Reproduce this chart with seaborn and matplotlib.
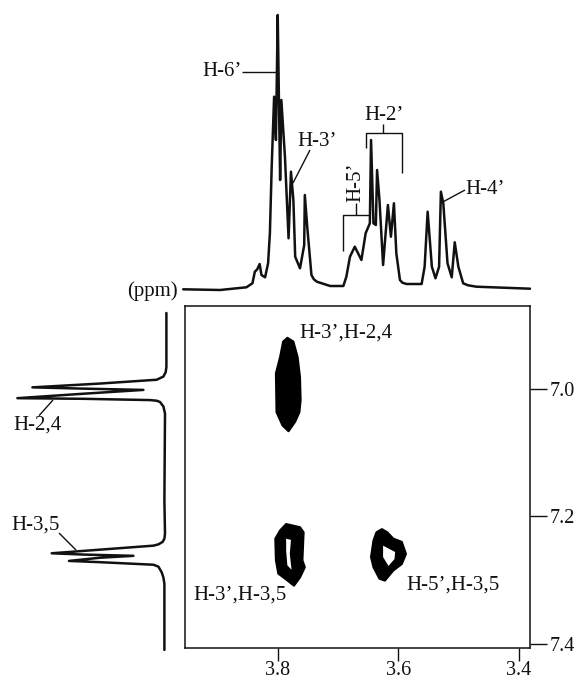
import matplotlib
matplotlib.use("Agg")
import matplotlib.pyplot as plt
import seaborn as sns

# 1D trace on top (ppm, height)
top_ppm = [3.957, 3.896, 3.852, 3.842, 3.838, 3.834, 3.830, 3.827, 3.821, 3.816, 3.813, 3.810, 3.806, 3.803,
           3.800, 3.798, 3.796, 3.794, 3.788, 3.782, 3.778, 3.774, 3.771, 3.763, 3.756, 3.755, 3.751, 3.744,
           3.740, 3.735, 3.713, 3.691, 3.686, 3.680, 3.672, 3.661, 3.654, 3.647, 3.645, 3.641, 3.637, 3.635, 3.631,
           3.625, 3.617, 3.612, 3.607, 3.603, 3.597, 3.593, 3.586, 3.561, 3.556, 3.551, 3.544, 3.538, 3.532, 3.529,
           3.525, 3.518, 3.511, 3.506, 3.500, 3.492, 3.484, 3.470, 3.381]
top_height = [0.7, 0, 2.7, 6.7, 18.3, 20.7, 26, 15, 12.7, 26.7, 56.7, 123.3, 193.3, 150,
              275, 190, 110, 190, 133.3, 51.7, 118.3, 90, 33.3, 21.7, 45, 95, 63.3, 15,
              10.7, 8.3, 4, 4, 13.3, 33.3, 43.3, 30, 56.7, 66.7, 150, 66.7, 65, 120, 90,
              25, 85, 53.3, 86.7, 36.7, 10, 7.3, 6, 6, 23.3, 78.3, 23.3, 11.7, 23.3, 98.3,
              86.7, 26.7, 12.7, 47.7, 23.3, 6.7, 4.7, 3.3, 1.3]

# 1D trace on the left
left_ppm = [6.880, 6.965, 6.973, 6.980, 6.983, 6.985, 6.991, 6.997, 6.999, 7.001, 7.007, 7.014, 7.015, 7.017,
            7.018, 7.020, 7.027, 7.038, 7.175, 7.227, 7.235, 7.240, 7.244, 7.246, 7.258, 7.260, 7.262, 7.265,
            7.270, 7.272, 7.276, 7.279, 7.288, 7.296, 7.306, 7.410]
left_height = [-0.7, -0.7, 0, 2.3, 6.3, 9, 65.7, 133.3, 82.3, 22.3, 82.3, 148.3, 82.3, 15.7,
               9, 5.7, 2.3, 0.7, 1.3, 0.7, 1.3, 3, 7.3, 12.3, 114, 82.3, 32.3, 65.7,
               96.7, 65.7, 12.3, 7.3, 4, 2.3, 1.3, 1.3]

# cross peak outlines
peak1_x = [3.784, 3.774, 3.767, 3.763, 3.762, 3.764, 3.771, 3.782, 3.792, 3.802, 3.803, 3.796, 3.791]
peak1_y = [6.919, 6.925, 6.949, 6.981, 7.017, 7.036, 7.051, 7.066, 7.057, 7.036, 6.975, 6.949, 6.925]
peak2_x = [3.786, 3.763, 3.757, 3.759, 3.755, 3.763, 3.773, 3.785, 3.799, 3.803, 3.804, 3.796]
peak2_y = [7.212, 7.217, 7.225, 7.269, 7.280, 7.296, 7.309, 7.300, 7.290, 7.269, 7.235, 7.222]
hole2_x = [3.786, 3.778, 3.780, 3.777, 3.784, 3.786]
hole2_y = [7.235, 7.237, 7.259, 7.284, 7.277, 7.254]
peak3_x = [3.627, 3.618, 3.608, 3.594, 3.587, 3.594, 3.608, 3.622, 3.631, 3.641, 3.645, 3.641, 3.636]
peak3_y = [7.220, 7.225, 7.235, 7.240, 7.259, 7.275, 7.285, 7.301, 7.298, 7.280, 7.264, 7.238, 7.225]
hole3_x = [3.625, 3.605, 3.606, 3.616, 3.625]
hole3_y = [7.246, 7.256, 7.267, 7.278, 7.264]

x_ticks = [3.8, 3.6, 3.4]
y_ticks = [7.0, 7.2, 7.4]

W, H = 579, 680
sns.set_style("white")
plt.rcParams['font.family'] = ['Liberation Serif', 'DejaVu Serif']
INK = "#111111"


def box(left, top, right, bottom):
    return [left / W, 1 - bottom / H, (right - left) / W, (bottom - top) / H]


fig = plt.figure(figsize=(W / 100, H / 100), dpi=100)

# main 2D panel
ax = fig.add_axes(box(185, 306, 530, 648))
for xs, ys in [(peak1_x, peak1_y), (peak2_x, peak2_y), (peak3_x, peak3_y)]:
    ax.fill(xs, ys, facecolor="black", edgecolor="black", lw=1.5, joinstyle="round")
ax.fill(hole2_x, hole2_y, color="white", lw=0)
ax.fill(hole3_x, hole3_y, color="white", lw=0)
ax.set_xlim(3.954, 3.381)
ax.set_ylim(7.407, 6.869)
ax.set_xticks(x_ticks)
ax.set_yticks(y_ticks)
ax.set_xticklabels([f"{v:.1f}" for v in x_ticks])
ax.set_yticklabels([f"{v:.1f}" for v in y_ticks])
ax.yaxis.tick_right()
ax.tick_params(axis="x", length=9.5, width=1, pad=0, labelsize=14.5, colors=INK, bottom=True)
ax.tick_params(axis="y", length=12, width=1, pad=2, labelsize=14.5, colors=INK, right=True)
for s in ax.spines.values():
    s.set_linewidth(1.1)
    s.set_color(INK)

# top trace
ax_top = fig.add_axes(box(185, 0, 530, 290))
sns.lineplot(x=top_ppm, y=top_height, sort=False, estimator=None, color=INK, lw=1.8, ax=ax_top,
             clip_on=False, solid_joinstyle="round")
ax_top.set_xlim(3.954, 3.381)
ax_top.set_ylim(0, 290)
ax_top.axis("off")

# left trace
ax_left = fig.add_axes(box(0, 306, 165.7, 648))
sns.lineplot(x=left_height, y=left_ppm, sort=False, estimator=None, color=INK, lw=1.8, ax=ax_left,
             clip_on=False, solid_joinstyle="round")
ax_left.set_xlim(165.7, 0)
ax_left.set_ylim(7.407, 6.869)
ax_left.axis("off")

# overlay in pixels for the labels and leader lines
ov = fig.add_axes([0, 0, 1, 1], facecolor="none")
ov.set_xlim(0, W)
ov.set_ylim(H, 0)
ov.axis("off")


def seg(xs, ys):
    ov.plot(xs, ys, color=INK, lw=1.0, solid_capstyle="butt")


seg([242, 278], [72, 72])
seg([310, 293], [150, 183])
seg([365.7, 365.7, 402.3, 402.3], [148.3, 133.3, 133.3, 172.7])
seg([382.7, 382.7], [124, 133.3])
seg([343.3, 343.3, 370], [250.7, 215, 215])
seg([355.7, 355.7], [203, 215])
seg([465, 443.3], [190, 201.7])
seg([53, 39], [400, 415.7])
seg([59, 76], [533, 550])

labels = [("H-6’", 222, 72), ("H-3’", 317, 142), ("H-2’", 384, 116), ("H-4’", 485, 190),
          ("(ppm)", 152, 291), ("H-2,4", 37.5, 425), ("H-3,5", 36, 525),
          ("H-3’,H-2,4", 346, 333), ("H-3’,H-3,5", 239.5, 595), ("H-5’,H-3,5", 453, 585)]
for txt, px, py in labels:
    ov.text(px, py, txt, fontsize=15, color=INK, ha="center", va="center")
ov.text(356, 182, "H-5’", fontsize=15, color=INK, ha="center", va="center", rotation=90)

fig.savefig("out.png", dpi=100)
